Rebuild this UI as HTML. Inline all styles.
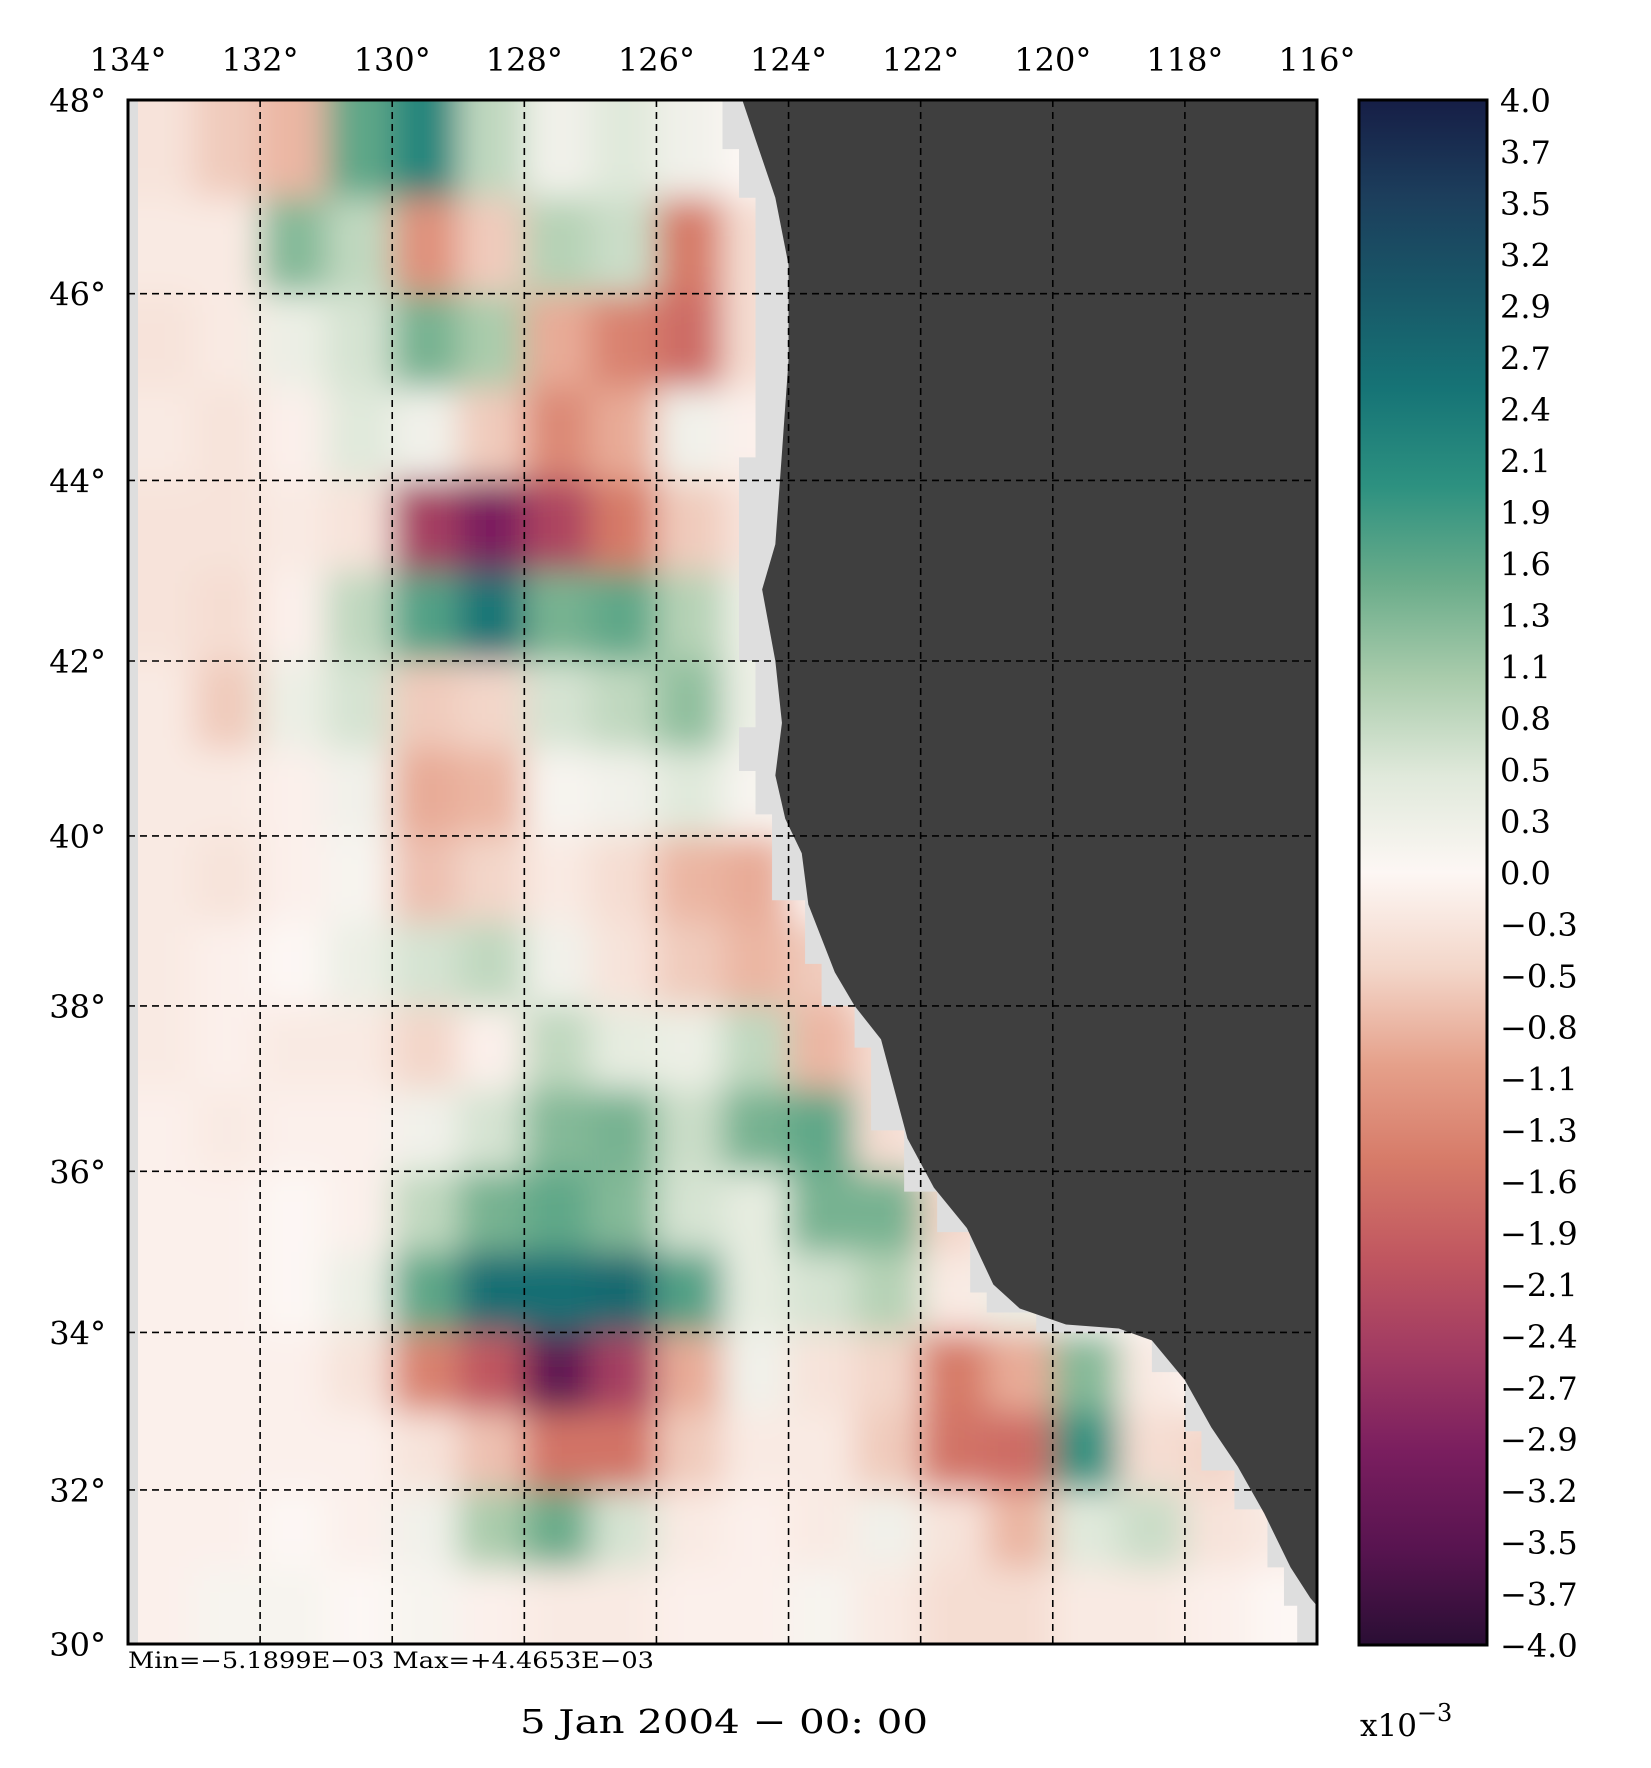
<!DOCTYPE html>
<html><head><meta charset="utf-8"><title>Vorticity map 5 Jan 2004</title>
<style>
html,body{margin:0;padding:0;background:#fff;}
svg{display:block;}
text{font-family:"DejaVu Serif","Liberation Serif",serif;fill:#000;}
</style></head>
<body>
<svg id="chart" xmlns="http://www.w3.org/2000/svg" width="1651" height="1768" viewBox="0 0 1651 1768">
<defs>
<filter id="blur" x="-5%" y="-5%" width="110%" height="110%"><feGaussianBlur stdDeviation="17"/></filter>
<clipPath id="plotclip"><rect x="128" y="100" width="1189" height="1544"/></clipPath>
<linearGradient id="cbgrad" x1="0" y1="1" x2="0" y2="0"></linearGradient>
</defs>
<g id="field" clip-path="url(#plotclip)">
<rect x="128" y="100" width="1189" height="1544" fill="#fcf3f0"/>
<g id="cells" filter="url(#blur)"></g>
<rect x="128" y="100" width="10" height="1544" fill="#dedede"/>
<path id="coastband" fill="#dedede"/>
<path id="land" fill="#3f3f3f"/>
</g>
<g id="grid"></g>
<rect x="128" y="100" width="1189" height="1544" fill="none" stroke="#000" stroke-width="3"/>
<g id="xlabels"></g>
<g id="ylabels"></g>
<rect x="1359" y="100" width="128" height="1545" fill="url(#cbgrad)" stroke="#000" stroke-width="3"/>
<g id="cblabels"></g>
<text x="1360" y="1736" font-size="31">x10<tspan dy="-15" font-size="24">−3</tspan></text>
<text x="128" y="1668" font-size="22" textLength="526" lengthAdjust="spacingAndGlyphs">Min=−5.1899E−03   Max=+4.4653E−03</text>
<text x="520" y="1733" font-size="33" textLength="408" lengthAdjust="spacingAndGlyphs">5 Jan 2004 − 00: 00</text>
</svg>
<script>
// Data (units of 1e-3), rows from lat 48-47 down to 31-30, cols from lon 134-133 to 117-116
const lonTicks = [134,132,130,128,126,124,122,120,118,116];
const latTicks = [48,46,44,42,40,38,36,34,32,30];
const cbLabels = ["4.0","3.7","3.5","3.2","2.9","2.7","2.4","2.1","1.9","1.6","1.3","1.1","0.8","0.5","0.3","0.0","−0.3","−0.5","−0.8","−1.1","−1.3","−1.6","−1.9","−2.1","−2.4","−2.7","−2.9","−3.2","−3.5","−3.7","−4.0"];
const row0  = [-0.3,-0.6,-0.8,1.6,2.2,0.8,0.2,0.5,0.2,0,0,0,0,0,0,0,0,0];
const row1  = [-0.2,-0.2,1.3,0.8,-1.2,-0.6,0.9,0.7,-1.5,-0.4,0,0,0,0,0,0,0,0];
const row2  = [-0.3,-0.2,0.3,0.6,1.4,1.0,-0.9,-1.4,-1.7,-0.4,0,0,0,0,0,0,0,0];
const row3  = [-0.2,-0.3,-0.1,0.5,0.2,-0.6,-1.3,-0.9,0.2,-0.1,0,0,0,0,0,0,0,0];
const row4  = [-0.3,-0.3,-0.2,-0.3,-2.4,-3.0,-2.3,-1.5,-0.6,-0.3,0,0,0,0,0,0,0,0];
const row5  = [-0.3,-0.4,-0.1,0.8,1.7,2.5,1.4,1.6,0.9,0.3,0,0,0,0,0,0,0,0];
const row6  = [-0.2,-0.6,0.3,0.6,-0.6,-0.5,0.6,0.8,1.2,0.3,0,0,0,0,0,0,0,0];
const row7  = [-0.2,-0.2,-0.1,0.2,-0.9,-0.8,0.1,0.2,0.5,0.1,0,0,0,0,0,0,0,0];
const row8  = [-0.2,-0.3,-0.1,0.1,-0.7,-0.5,-0.2,-0.4,-0.8,-0.9,0,0,0,0,0,0,0,0];
const row9  = [-0.2,-0.1,0,0.3,0.6,0.8,0.2,-0.3,-0.6,-0.8,-0.6,0,0,0,0,0,0,0];
const row10 = [-0.2,-0.1,-0.2,-0.2,-0.5,-0.1,0.8,0.4,0.3,0.8,-0.8,-0.4,0,0,0,0,0,0];
const row11 = [-0.1,-0.2,-0.1,-0.1,0.2,0.6,1.3,1.4,0.7,1.4,1.6,-0.4,0,0,0,0,0,0];
const row12 = [-0.1,-0.1,0,-0.1,0.8,1.4,1.6,1.3,0.6,0.4,1.4,1.4,-0.5,0,0,0,0,0];
const row13 = [-0.1,-0.1,0,0.3,1.6,2.6,2.6,2.7,1.7,0.4,0.6,0.9,-0.2,0.3,0,0,0,0];
const row14 = [-0.1,-0.1,-0.1,-0.3,-1.4,-2.0,-3.4,-2.4,-0.9,0.2,-0.3,-0.5,-1.5,-0.9,1.3,-0.2,0,0];
const row15 = [-0.1,-0.1,-0.1,-0.1,-0.3,-0.7,-1.6,-1.6,-0.6,-0.2,-0.2,-0.6,-1.6,-1.7,2.0,-0.4,-0.5,0];
const row16 = [-0.1,-0.1,0,-0.1,0.2,1.0,1.5,0.6,-0.2,-0.1,-0.2,0.2,-0.3,-0.8,0.5,0.7,-0.3,-0.2];
const row17 = [-0.1,0.1,0.1,0,0.1,-0.1,-0.2,-0.2,-0.1,-0.1,0.1,-0.2,-0.4,-0.4,-0.2,-0.2,-0.1,0];
const coastLon = [124.7,124.5,124.2,124.0,124.0,124.1,124.2,124.4,124.2,124.1,124.2,124.05,123.8,123.7,123.3,123.0,122.6,122.4,122.2,121.8,121.3,120.9,120.5,119.8,119.0,118.5,118.0,117.6,117.2,116.8,116.4,116.1,116.0];
const coastLat = [48,47.6,47,46.3,45.3,44.3,43.3,42.8,42,41.3,40.7,40.2,39.8,39.2,38.4,38.0,37.6,37.0,36.4,35.8,35.3,34.6,34.3,34.1,34.05,33.9,33.4,32.8,32.3,31.7,31.0,30.6,30.5];

const rows=[row0,row1,row2,row3,row4,row5,row6,row7,row8,row9,row10,row11,row12,row13,row14,row15,row16,row17];
const NS="http://www.w3.org/2000/svg";
const X0=128,X1=1317,Y0=100,Y1=1644,LON0=134,LON1=116,LAT0=48,LAT1=30;
function merc(l){return Math.log(Math.tan(Math.PI/4+l*Math.PI/360));}
function xs(lon){return X0+(LON0-lon)/(LON0-LON1)*(X1-X0);}
function ys(lat){return Y0+(merc(LAT0)-merc(lat))/(merc(LAT0)-merc(LAT1))*(Y1-Y0);}

const cstops=[[-4,[42,14,52]],[-3.5,[88,20,80]],[-3,[122,30,95]],[-2.5,[160,58,98]],[-2,[192,86,96]],[-1.5,[214,122,104]],[-1,[229,160,138]],[-0.5,[243,214,201]],[0,[253,247,244]],[0.5,[224,233,219]],[1,[170,204,172]],[1.5,[106,172,138]],[2,[45,145,128]],[2.5,[22,116,118]],[3,[24,88,104]],[3.5,[28,62,92]],[4,[22,30,70]]];
function cmap(v){v=Math.max(-4,Math.min(4,v));for(let i=0;i<cstops.length-1;i++){const a=cstops[i],b=cstops[i+1];if(v<=b[0]){const t=(v-a[0])/(b[0]-a[0]);const c=a[1].map((q,k)=>Math.round(q+(b[1][k]-q)*t));return "rgb("+c.join(",")+")";}}return "rgb(22,30,70)";}

const grad=document.getElementById('cbgrad');
cstops.forEach(s=>{const st=document.createElementNS(NS,'stop');st.setAttribute('offset',((s[0]+4)/8).toFixed(4));st.setAttribute('stop-color',cmap(s[0]));grad.appendChild(st);});

const cells=document.getElementById('cells');
rows.forEach((r,i)=>{r.forEach((v,j)=>{
  let x=xs(LON0-j),x2=xs(LON0-j-1),y=ys(LAT0-i),y2=ys(LAT0-i-1);
  if(j===0)x-=80; if(j===r.length-1)x2+=80; if(i===0)y-=80; if(i===rows.length-1)y2+=80;
  const rc=document.createElementNS(NS,'rect');
  rc.setAttribute('x',x);rc.setAttribute('y',y);rc.setAttribute('width',x2-x+1);rc.setAttribute('height',y2-y+1);
  rc.setAttribute('fill',cmap(v));
  
  
  cells.appendChild(rc);
});});

let d="M"+xs(coastLon[0])+","+(Y0-5);
coastLon.forEach((lo,k)=>{d+=" L"+xs(lo)+","+ys(coastLat[k]);});
d+=" L"+(X1+5)+","+ys(30.5)+" L"+(X1+5)+","+(Y0-5)+"Z";
document.getElementById('land').setAttribute('d',d);
let d2="M"+xs(coastLon[0]+0.45)+","+(Y0-5);
coastLon.forEach((lo,k)=>{const px=xs(Math.round((lo+0.45)*4)/4);d2+=" H"+px+" V"+ys(Math.round(coastLat[k]*4)/4);});
d2+=" L"+xs(116.3)+","+ys(30.5)+" L"+xs(116.3)+","+(Y1+5)+" L"+(X1+5)+","+(Y1+5)+" L"+(X1+5)+","+(Y0-5)+"Z";
document.getElementById('coastband').setAttribute('d',d2);

const grid=document.getElementById('grid'),xl=document.getElementById('xlabels'),yl=document.getElementById('ylabels');
lonTicks.forEach(lo=>{
  const x=xs(lo);
  if(lo<LON0&&lo>LON1){const ln=document.createElementNS(NS,'line');ln.setAttribute('x1',x);ln.setAttribute('x2',x);ln.setAttribute('y1',Y0);ln.setAttribute('y2',Y1);ln.setAttribute('stroke','#000');ln.setAttribute('stroke-width','1.6');ln.setAttribute('stroke-dasharray','7,5');
  
  
  grid.appendChild(ln);}
  const t=document.createElementNS(NS,'text');t.setAttribute('x',x);t.setAttribute('y',71);t.setAttribute('font-size','32');t.setAttribute('text-anchor','middle');t.textContent=lo+"°";
  
  
  xl.appendChild(t);
});
latTicks.forEach(la=>{
  const y=ys(la);
  if(la<LAT0&&la>LAT1){const ln=document.createElementNS(NS,'line');ln.setAttribute('x1',X0);ln.setAttribute('x2',X1);ln.setAttribute('y1',y);ln.setAttribute('y2',y);ln.setAttribute('stroke','#000');ln.setAttribute('stroke-width','1.6');ln.setAttribute('stroke-dasharray','7,5');
  
  
  grid.appendChild(ln);}
  const t=document.createElementNS(NS,'text');t.setAttribute('x',106);t.setAttribute('y',y+12);t.setAttribute('font-size','32');t.setAttribute('text-anchor','end');t.textContent=la+"°";
  
  
  yl.appendChild(t);
});
const cbl=document.getElementById('cblabels');
cbLabels.forEach((s,k)=>{
  const y=100+k*1545/(cbLabels.length-1);
  const t=document.createElementNS(NS,'text');t.setAttribute('x',1500);t.setAttribute('y',y+12);t.setAttribute('font-size','32');t.textContent=s;
  
  
  cbl.appendChild(t);
});
</script>
</body></html>
